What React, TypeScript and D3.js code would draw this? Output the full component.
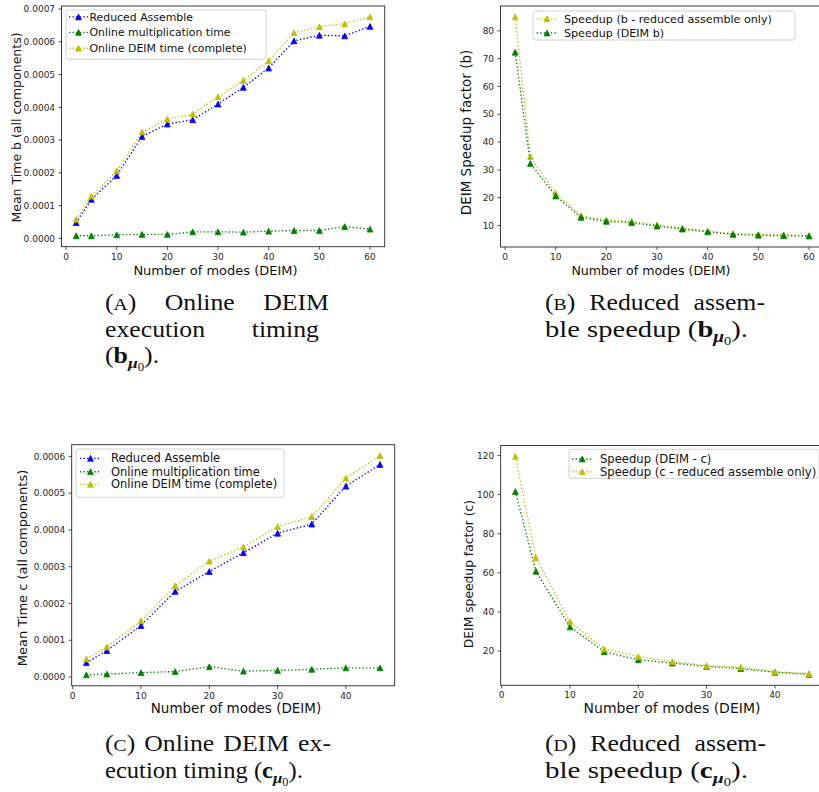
import React, { useEffect, useRef } from "react";
import * as d3 from "d3";

// ---------------- data ----------------
const modesB = [2, 5, 10, 15, 20, 25, 30, 35, 40, 45, 50, 55, 60];
const reducedAssembleB = [0.000048, 0.000119, 0.000192, 0.000311, 0.000349, 0.000362, 0.00041, 0.000461, 0.00052, 0.000603, 0.00062, 0.000618, 0.000647];
const onlineMultiplicationB = [0.000008, 0.000008, 0.000011, 0.000012, 0.000012, 0.00002, 0.00002, 0.000019, 0.000022, 0.000024, 0.000024, 0.000036, 0.000028];
const onlineDeimB = [0.000058, 0.000129, 0.000206, 0.000325, 0.000364, 0.00038, 0.000432, 0.000482, 0.000542, 0.000628, 0.000646, 0.000655, 0.000676];
const speedupReducedB = [85, 34.8, 21.6, 13.5, 12, 11.5, 10.2, 9.1, 8, 7, 6.8, 6.7, 6.4];
const speedupDeimB = [72.3, 32.3, 20.6, 12.9, 11.5, 11, 9.8, 8.7, 7.7, 6.8, 6.5, 6.3, 6.2];

const modesC = [2, 5, 10, 15, 20, 25, 30, 35, 40, 45];
const reducedAssembleC = [0.000039, 0.000072, 0.00014, 0.000233, 0.000287, 0.000338, 0.000391, 0.000416, 0.000519, 0.000578];
const onlineMultiplicationC = [0.000006, 0.000008, 0.000012, 0.000015, 0.000028, 0.000016, 0.000018, 0.000021, 0.000025, 0.000025];
const onlineDeimC = [0.000049, 0.000082, 0.000153, 0.000248, 0.000315, 0.000354, 0.000409, 0.000436, 0.000541, 0.000602];
const speedupDeimC = [101.6, 60.8, 32.3, 19.6, 15.5, 13.8, 12.1, 11, 9.1, 8];
const speedupReducedC = [119.6, 67.8, 35, 21, 17.1, 14.5, 12.5, 11.7, 9.4, 8.4];

const xTicksB = [0, 10, 20, 30, 40, 50, 60];
const xTicksC = [0, 10, 20, 30, 40];
const yTicksTimeB = [0, 0.0001, 0.0002, 0.0003, 0.0004, 0.0005, 0.0006, 0.0007];
const yTicksSpeedB = [10, 20, 30, 40, 50, 60, 70, 80];
const yTicksTimeC = [0, 0.0001, 0.0002, 0.0003, 0.0004, 0.0005, 0.0006];
const yTicksSpeedC = [20, 40, 60, 80, 100, 120];

const BLUE = "#0000ff";
const GREEN = "#008000";
const YELLOW = "#bfbf00";

// ---------------- panel layout ----------------
type Series = { label: string; values: number[]; color: string };
type Panel = {
  box: { l: number; r: number; t: number; b: number };
  x: number[];
  series: Series[];
  xTicks: number[];
  yTicks: number[];
  yFmt: (v: number) => string;
  xlabel: { cx: number; y: number; fs: number };
  ylabel: { text: string; cx: number; cy: number; fs: number };
  legend: { x: number; y: number; w: number; h: number; rows: number[]; hx0: number; hx1: number; tx: number; fs: number };
};

const fmt4 = d3.format(".4f");
const fmt0 = d3.format("d");

const panels: Panel[] = [
  {
    box: { l: 61.5, r: 384.7, t: 6, b: 246.7 },
    x: modesB,
    series: [
      { label: "Reduced Assemble", values: reducedAssembleB, color: BLUE },
      { label: "Online multiplication time", values: onlineMultiplicationB, color: GREEN },
      { label: "Online DEIM time (complete)", values: onlineDeimB, color: YELLOW },
    ],
    xTicks: xTicksB,
    yTicks: yTicksTimeB,
    yFmt: fmt4,
    xlabel: { cx: 215.5, y: 274.5, fs: 13 },
    ylabel: { text: "Mean Time b (all components)", cx: 16.5, cy: 127.5, fs: 12.5 },
    legend: { x: 66, y: 10, w: 200, h: 49.3, rows: [16.9, 32.4, 48.2], hx0: 69, hx1: 88, tx: 89.5, fs: 10.9 },
  },
  {
    box: { l: 500.5, r: 823.7, t: 6, b: 247 },
    x: modesB,
    series: [
      { label: "Speedup (b - reduced assemble only)", values: speedupReducedB, color: YELLOW },
      { label: "Speedup (DEIM b)", values: speedupDeimB, color: GREEN },
    ],
    xTicks: xTicksB,
    yTicks: yTicksSpeedB,
    yFmt: fmt0,
    xlabel: { cx: 651, y: 274.5, fs: 12.6 },
    ylabel: { text: "DEIM Speedup factor (b)", cx: 467, cy: 132.5, fs: 13.5 },
    legend: { x: 533, y: 11, w: 262, h: 29, rows: [18.8, 33], hx0: 536.7, hx1: 557.3, tx: 564, fs: 11.1 },
  },
  {
    box: { l: 71.7, r: 394.7, t: 444.7, b: 685.8 },
    x: modesC,
    series: [
      { label: "Reduced Assemble", values: reducedAssembleC, color: BLUE },
      { label: "Online multiplication time", values: onlineMultiplicationC, color: GREEN },
      { label: "Online DEIM time (complete)", values: onlineDeimC, color: YELLOW },
    ],
    xTicks: xTicksC,
    yTicks: yTicksTimeC,
    yFmt: fmt4,
    xlabel: { cx: 236, y: 713, fs: 13.5 },
    ylabel: { text: "Mean Time c (all components)", cx: 23, cy: 568, fs: 13 },
    legend: { x: 76, y: 449, w: 208, h: 48.3, rows: [458.3, 471.7, 484.3], hx0: 80, hx1: 101, tx: 111, fs: 11.5 },
  },
  {
    box: { l: 500.7, r: 823.7, t: 445.5, b: 685.3 },
    x: modesC,
    series: [
      { label: "Speedup (DEIM - c)", values: speedupDeimC, color: GREEN },
      { label: "Speedup (c - reduced assemble only)", values: speedupReducedC, color: YELLOW },
    ],
    xTicks: xTicksC,
    yTicks: yTicksSpeedC,
    yFmt: fmt0,
    xlabel: { cx: 672, y: 713, fs: 14 },
    ylabel: { text: "DEIM speedup factor (c)", cx: 469, cy: 574, fs: 12.3 },
    legend: { x: 569, y: 449.3, w: 250, h: 29, rows: [459, 471.7], hx0: 572, hx1: 592.5, tx: 600, fs: 11.6 },
  },
];

// ---------------- captions ----------------
type Part = { t: string; size?: number; bold?: boolean; italic?: boolean; dy?: number };
type Word = Part[];
const W = (s: string): Word => [{ t: s }];
const label = (c: string): Word => [{ t: "(" }, { t: c, size: 0.76 }, { t: ")" }];
const vec = (c: string, tail: string): Word => [
  { t: "(" },
  { t: c, bold: true },
  { t: "μ", size: 0.68, bold: true, italic: true, dy: 5 },
  { t: "0", size: 0.5, dy: 3 },
  { t: tail, dy: -8 },
];
type CapLine = { words: Word[]; x0: number; x1?: number; y: number; justify?: boolean };
const captionLines: CapLine[] = [
  { words: [label("A"), W("Online"), W("DEIM")], x0: 105, x1: 329, y: 310, justify: true },
  { words: [W("execution"), W("timing")], x0: 105, x1: 319, y: 337, justify: true },
  { words: [vec("b", ").")], x0: 105, y: 363 },
  { words: [label("B"), W("Reduced"), W("assem-")], x0: 545, x1: 765, y: 310, justify: true },
  { words: [W("ble"), W("speedup"), vec("b", ").")], x0: 545, x1: 748, y: 337 },
  { words: [label("C"), W("Online"), W("DEIM"), W("ex-")], x0: 105, x1: 331, y: 751, justify: true },
  { words: [W("ecution"), W("timing"), vec("c", ").")], x0: 105, x1: 303, y: 778 },
  { words: [label("D"), W("Reduced"), W("assem-")], x0: 545, x1: 766, y: 751, justify: true },
  { words: [W("ble"), W("speedup"), vec("c", ").")], x0: 545, x1: 748, y: 778 },
];
const CAP_FONT = "'Liberation Serif', 'Times New Roman', serif";
const CAP_FS = 23;
const CAP_SX = 1.12;

const SANS = "'DejaVu Sans', Verdana, sans-serif";

const tri = (cx: number, cy: number, r: number) =>
  `M${cx},${cy - r}L${cx + r},${cy + r}L${cx - r},${cy + r}Z`;

function drawPanel(root: d3.Selection<SVGSVGElement, unknown, null, undefined>, p: Panel) {
  const g = root.append("g");
  const allY = p.series.flatMap((s) => s.values);
  const ymin = d3.min(allY) as number;
  const ymax = d3.max(allY) as number;
  const ypad = (ymax - ymin) * 0.05;
  const xmin = d3.min(p.x) as number;
  const xmax = d3.max(p.x) as number;
  const xpad = (xmax - xmin) * 0.05;
  const x = d3.scaleLinear().domain([xmin - xpad, xmax + xpad]).range([p.box.l, p.box.r]);
  const y = d3.scaleLinear().domain([ymin - ypad, ymax + ypad]).range([p.box.b, p.box.t]);

  const line = d3
    .line<number>()
    .x((_, i) => x(p.x[i]))
    .y((d) => y(d));

  p.series.forEach((s) => {
    g.append("path")
      .attr("d", line(s.values) as string)
      .attr("fill", "none")
      .attr("stroke", s.color)
      .attr("stroke-width", 1.35)
      .attr("stroke-dasharray", "1.35,2.2");
    g.selectAll(null)
      .data(s.values)
      .enter()
      .append("path")
      .attr("d", (d, i) => tri(x(p.x[i]), y(d), 2.9))
      .attr("fill", s.color)
      .attr("stroke", s.color)
      .attr("stroke-width", 0.8)
      .attr("stroke-linejoin", "miter");
  });

  // spines
  g.append("rect")
    .attr("x", p.box.l)
    .attr("y", p.box.t)
    .attr("width", p.box.r - p.box.l)
    .attr("height", p.box.b - p.box.t)
    .attr("fill", "none")
    .attr("stroke", "#262626")
    .attr("stroke-width", 0.9);

  // x ticks
  p.xTicks.forEach((t) => {
    const xx = x(t);
    g.append("line").attr("x1", xx).attr("x2", xx).attr("y1", p.box.b).attr("y2", p.box.b + 3.2).attr("stroke", "#262626").attr("stroke-width", 0.8);
    g.append("text")
      .attr("x", xx)
      .attr("y", p.box.b + 13)
      .attr("text-anchor", "middle")
      .attr("font-family", SANS)
      .attr("font-size", 9)
      .attr("fill", "#262626")
      .text(fmt0(t));
  });
  // y ticks
  p.yTicks.forEach((t) => {
    const yy = y(t);
    g.append("line").attr("x1", p.box.l - 3.2).attr("x2", p.box.l).attr("y1", yy).attr("y2", yy).attr("stroke", "#262626").attr("stroke-width", 0.8);
    g.append("text")
      .attr("x", p.box.l - 6.4)
      .attr("y", yy)
      .attr("dy", "0.35em")
      .attr("text-anchor", "end")
      .attr("font-family", SANS)
      .attr("font-size", 9)
      .attr("fill", "#262626")
      .text(p.yFmt(t));
  });

  // axis labels
  g.append("text")
    .attr("x", p.xlabel.cx)
    .attr("y", p.xlabel.y)
    .attr("text-anchor", "middle")
    .attr("font-family", SANS)
    .attr("font-size", p.xlabel.fs)
    .attr("fill", "#111")
    .text("Number of modes (DEIM)");
  g.append("text")
    .attr("transform", `translate(${p.ylabel.cx},${p.ylabel.cy}) rotate(-90)`)
    .attr("dy", "0.32em")
    .attr("text-anchor", "middle")
    .attr("font-family", SANS)
    .attr("font-size", p.ylabel.fs)
    .attr("fill", "#111")
    .text(p.ylabel.text);

  // legend
  const L = p.legend;
  g.append("rect")
    .attr("x", L.x)
    .attr("y", L.y)
    .attr("width", L.w)
    .attr("height", L.h)
    .attr("rx", 2.5)
    .attr("fill", "#ffffff")
    .attr("fill-opacity", 0.8)
    .attr("stroke", "#cccccc")
    .attr("stroke-width", 0.9);
  p.series.forEach((s, i) => {
    const ry = L.rows[i];
    g.append("line")
      .attr("x1", L.hx0)
      .attr("x2", L.hx1)
      .attr("y1", ry)
      .attr("y2", ry)
      .attr("stroke", s.color)
      .attr("stroke-width", 1.35)
      .attr("stroke-dasharray", "1.35,2.2");
    g.append("path")
      .attr("d", tri((L.hx0 + L.hx1) / 2, ry, 2.9))
      .attr("fill", s.color)
      .attr("stroke", s.color)
      .attr("stroke-width", 0.8);
    g.append("text")
      .attr("x", L.tx)
      .attr("y", ry)
      .attr("dy", "0.36em")
      .attr("font-family", SANS)
      .attr("font-size", L.fs)
      .attr("fill", "#111")
      .text(s.label);
  });
}

function fillWord(text: any, word: Word, fs: number) {
  word.forEach((p) => {
    const ts = text.append("tspan").text(p.t);
    if (p.size) ts.attr("font-size", fs * p.size);
    if (p.bold) ts.attr("font-weight", "bold");
    if (p.italic) ts.attr("font-style", "italic");
    if (p.dy) ts.attr("dy", p.dy);
  });
}

function drawCaption(root: d3.Selection<SVGSVGElement, unknown, null, undefined>, c: CapLine) {
  const g = root.append("g").attr("font-family", CAP_FONT).attr("font-size", CAP_FS).attr("fill", "#111");
  if (c.justify && c.x1 !== undefined) {
    const texts = c.words.map((w) => {
      const t = g.append("text").attr("x", 0).attr("y", 0) as any;
      fillWord(t, w, CAP_FS);
      return t;
    });
    const widths = texts.map((t: any) => (t.node() as SVGTextElement).getComputedTextLength() * CAP_SX);
    const total = d3.sum(widths);
    const gap = (c.x1 - c.x0 - total) / Math.max(1, c.words.length - 1);
    let cx = c.x0;
    texts.forEach((t: any, i: number) => {
      t.attr("transform", `translate(${cx},${c.y}) scale(${CAP_SX},1)`);
      cx += widths[i] + gap;
    });
  } else {
    const t = g.append("text").attr("x", 0).attr("y", 0).style("white-space", "pre") as any;
    c.words.forEach((w, i) => {
      if (i > 0) t.append("tspan").text(" ");
      fillWord(t, w, CAP_FS);
    });
    let sx = CAP_SX;
    if (c.x1 !== undefined) {
      const w0 = (t.node() as SVGTextElement).getComputedTextLength();
      sx = (c.x1 - c.x0) / w0;
    }
    t.attr("transform", `translate(${c.x0},${c.y}) scale(${sx},1)`);
  }
}

export default function App() {
  const ref = useRef<SVGSVGElement>(null);
  useEffect(() => {
    if (!ref.current) return;
    const svg = d3.select(ref.current);
    svg.selectAll("*").remove();
    svg.append("rect").attr("x", 0).attr("y", 0).attr("width", 819).attr("height", 792).attr("fill", "#fff");
    panels.forEach((p) => drawPanel(svg, p));
    captionLines.forEach((c) => drawCaption(svg, c));
  }, []);
  return (
    <svg
      ref={ref}
      width={819}
      height={792}
      style={{ position: "absolute", left: 0, top: 0, display: "block", background: "#fff" }}
    />
  );
}
